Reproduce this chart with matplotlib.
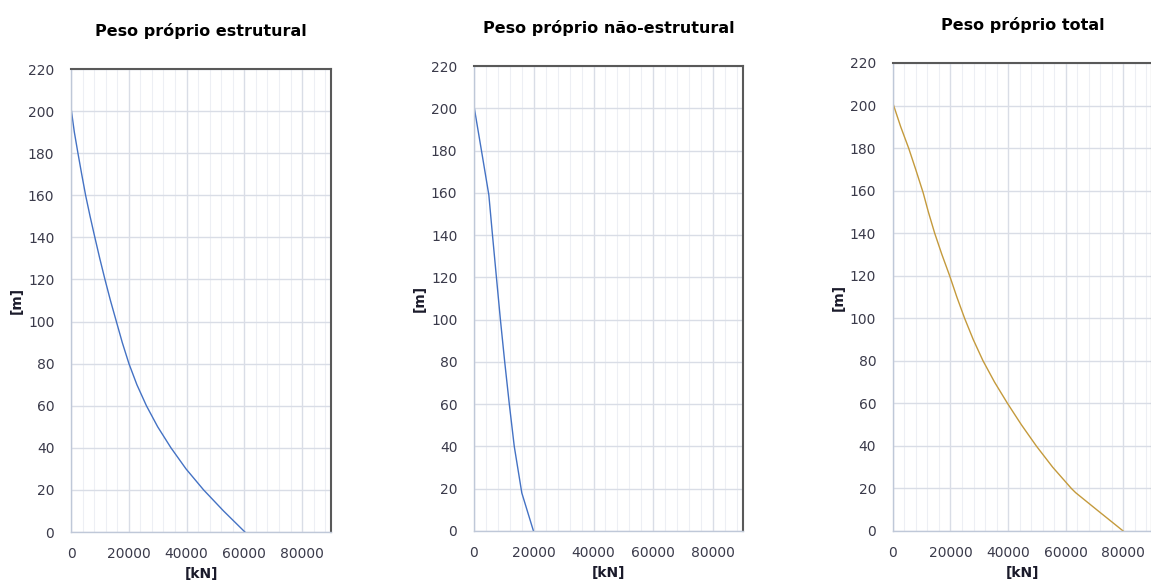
import matplotlib
matplotlib.use("Agg")
import matplotlib.pyplot as plt
from matplotlib.ticker import MultipleLocator

# Peso próprio estrutural: altura [m] x força acumulada [kN]
h_estr = [201.5, 190, 180, 170, 160, 150, 140, 130, 120, 110, 100, 90, 80, 70, 60, 50, 40, 30, 20, 10, 0]
p_estr = [0, 1150, 2400, 3700, 5050, 6600, 8250, 9950, 11750, 13650, 15700, 17750, 20050,
          22800, 26100, 30000, 34600, 39800, 45900, 52800, 60200]

# Peso próprio não-estrutural
h_nestr = [201, 180, 159, 140, 120, 100, 80, 60, 40, 18, 0]
p_nestr = [0, 2500, 4970, 6190, 7510, 8840, 10280, 11820, 13480, 16000, 19900]

# Peso próprio total
h_tot = [201, 190, 180, 170, 159, 150, 140, 130, 120, 110, 100, 90, 80, 70, 60, 50, 40, 30, 20, 18, 10, 0]
p_tot = [0, 2700, 5450, 7900, 10500, 12300, 14500, 17000, 19700, 22200, 24900, 27900, 31300,
         35300, 39800, 44600, 49800, 55500, 62000, 63500, 70800, 80000]

titles = ["Peso próprio estrutural", "Peso próprio não-estrutural", "Peso próprio total"]
series = [(p_estr, h_estr, "#4472C4"), (p_nestr, h_nestr, "#4472C4"), (p_tot, h_tot, "#C49A3C")]

# posições dos eixos em fração da figura (left, bottom, width, height)
boxes = [(0.0617, 0.0843, 0.2259, 0.7969),
         (0.4118, 0.0861, 0.2337, 0.8003),
         (0.7758, 0.0861, 0.2250, 0.8055)]

fig = plt.figure(figsize=(11.51, 5.81), dpi=100)

for box, title, (x, y, color) in zip(boxes, titles, series):
    ax = fig.add_axes(box)
    ax.plot(x, y, color=color, lw=1.0)
    ax.set_xlim(0, 90000)
    ax.set_ylim(0, 220)
    ax.xaxis.set_major_locator(MultipleLocator(20000))
    ax.xaxis.set_minor_locator(MultipleLocator(4000))
    ax.yaxis.set_major_locator(MultipleLocator(20))
    ax.grid(which="major", color="#D9DDE6", lw=1.0)
    ax.grid(which="minor", axis="x", color="#EDEFF4", lw=0.8)
    ax.set_axisbelow(True)
    for s in ["top", "right"]:
        ax.spines[s].set_color("#595959")
        ax.spines[s].set_linewidth(1.5)
    for s in ["left", "bottom"]:
        ax.spines[s].set_color("#BFC8D8")
        ax.spines[s].set_linewidth(1.0)
    ax.tick_params(which="both", length=0, labelsize=10, labelcolor="#3A3A4A")
    ax.tick_params(axis="y", pad=12)
    ax.tick_params(axis="x", pad=11)
    ax.set_title(title, fontsize=11.5, fontweight="bold", pad=24)
    ax.set_xlabel("[kN]", fontsize=10, fontweight="bold", labelpad=4, color="#1A1A2A")
    ax.set_ylabel("[m]", fontsize=10, fontweight="bold", labelpad=3, color="#1A1A2A")

fig.savefig("out.png", dpi=100)
